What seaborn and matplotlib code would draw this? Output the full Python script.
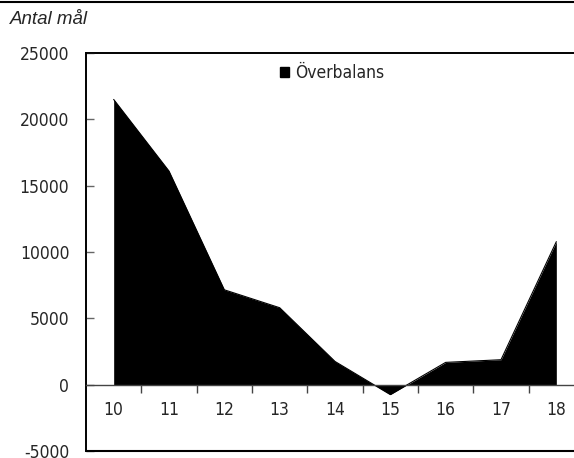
import matplotlib
matplotlib.use("Agg")
import matplotlib.pyplot as plt
import seaborn as sns
import numpy as np
from matplotlib.patches import Patch
from matplotlib.lines import Line2D
from matplotlib.ticker import FixedLocator, NullFormatter

categories = ["10", "11", "12", "13", "14", "15", "16", "17", "18"]
overbalans = [21500, 16100, 7150, 5800, 1750, -750, 1680, 1880, 10780]
yticks = [-5000, 0, 5000, 10000, 15000, 20000, 25000]

sns.set_style("white")
plt.rcParams["font.family"] = ["DejaVu Sans"]
plt.rcParams["font.stretch"] = "condensed"

fig = plt.figure(figsize=(5.74, 4.58), dpi=100)
ax = fig.add_axes([86 / 574, 1 - 451 / 458, (584 - 86) / 574, (451 - 53) / 458])

pos = np.arange(len(categories))
ax.fill_between(pos, overbalans, 0, color="black", linewidth=0)
sns.lineplot(x=pos, y=overbalans, color="black", linewidth=0.8, ax=ax)

ax.set_xlim(-0.5, len(categories) - 0.5)
ax.set_ylim(-5000, 25000)

ax.patch.set_edgecolor("black")
ax.patch.set_linewidth(1.2)
for s in ["top", "right", "left"]:
    ax.spines[s].set_visible(True)
    ax.spines[s].set_color("black")
    ax.spines[s].set_linewidth(1.2)
ax.spines["bottom"].set_position(("data", 0))
ax.spines["bottom"].set_color("#444444")
ax.spines["bottom"].set_linewidth(1.0)
ax.axhline(-5000, color="black", linewidth=1.5, clip_on=False)

ax.set_xticks(pos)
ax.set_xticklabels(categories)
ax.xaxis.set_minor_locator(FixedLocator(pos[:-1] + 0.5))
ax.xaxis.set_minor_formatter(NullFormatter())
ax.tick_params(axis="x", which="major", length=0, pad=11.5, labelsize=12.5)
ax.tick_params(axis="x", which="minor", length=6, width=1, direction="out",
               color="#444444", bottom=True)

ax.set_yticks(yticks)
ax.set_yticklabels([str(v) for v in yticks])
ax.tick_params(axis="y", which="major", length=6, width=1, direction="in",
               color="#666666", pad=12, labelsize=12.5, left=True)
ax.set_xlabel("")
ax.set_ylabel("")

leg = ax.legend(handles=[Patch(facecolor="black", edgecolor="black", label="Överbalans")],
                loc="center", bbox_to_anchor=((332 - 86) / 498, (451 - 73) / 398),
                frameon=False, fontsize=12.5, handlelength=0.55, handleheight=0.55,
                handletextpad=0.35, borderpad=0)

fig.text(10 / 574, 1 - 20 / 458, "Antal mål", fontsize=13.5, style="italic",
         family=["Liberation Sans", "DejaVu Sans"], stretch="normal",
         va="center", ha="left")
fig.add_artist(Line2D([0, 1], [1 - 1.5 / 458, 1 - 1.5 / 458], color="black",
                      linewidth=1.5, transform=fig.transFigure))

fig.savefig("out.png", dpi=100)
